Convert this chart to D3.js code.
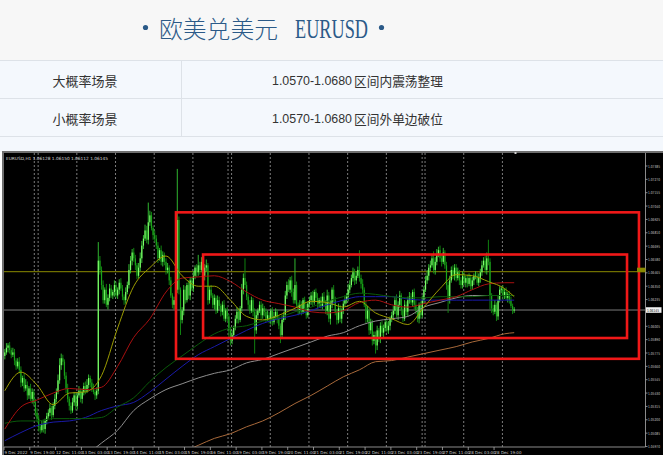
<!DOCTYPE html>
<html><head><meta charset="utf-8">
<script src="https://cdn.jsdelivr.net/npm/d3@7"></script>
<style>body{margin:0;background:#fff;}svg{display:block;}</style>
</head><body><svg id="c" width="663" height="455"></svg>
<script>
// ---------- DATA ----------
const titleCn = "欧美兑美元";
const titleEn = "EURUSD";
const rowLabels = ["大概率场景", "小概率场景"];
const rowRanges = ["1.0570-1.0680", "1.0570-1.0680"];
const rowTexts = ["区间内震荡整理", "区间外单边破位"];

// EURUSD H1 closes (bar 0 = 9 Dec 2022 03:00)
const firstOpen = 1.0575;
const closes = [
1.0578,1.0582,1.0584,1.0580,1.0576,1.0578,
1.0571,1.0566,1.0570,1.0563,
1.0552,1.0556,1.0547,
1.0550,1.0541,1.0547,1.0538,1.0544,1.0535,
1.0526,1.0521,1.0514,1.0511,1.0516,1.0512,1.0519,1.0523,
1.0526,1.0530,1.0524,1.0532,1.0538,1.0544,
1.0554,1.0567,1.0573,1.0570,1.0558,1.0547,
1.0538,1.0532,1.0528,1.0535,1.0541,1.0532,
1.0541,1.0545,1.0538,1.0544,1.0549,1.0545,
1.0550,1.0556,1.0552,1.0547,1.0544,1.0541,1.0545,
1.0657,
1.0649,1.0636,1.0623,1.0632,1.0619,1.0625,1.0633,1.0627,
1.0630,1.0636,1.0627,1.0632,1.0638,1.0633,1.0626,1.0623,1.0630,
1.0636,1.0649,1.0657,1.0664,1.0659,
1.0653,1.0644,1.0651,1.0659,
1.0670,1.0676,1.0683,1.0675,1.0690,1.0696,1.0685,1.0679,
1.0676,1.0670,1.0659,1.0666,1.0656,
1.0662,1.0656,1.0649,1.0651,1.0640,1.0627,1.0619,
1.0623,1.0632,
1.0692,
1.0632,
1.0606,1.0614,
1.0632,1.0623,1.0636,1.0627,1.0640,1.0633,
1.0644,1.0651,1.0647,1.0653,
1.0649,1.0656,1.0644,1.0651,
1.0653,1.0623,1.0632,
1.0627,1.0619,1.0625,1.0614,1.0623,1.0618,
1.0613,1.0619,1.0607,1.0614,1.0609,
1.0597,1.0588,1.0593,1.0599,
1.0607,1.0613,1.0606,1.0616,
1.0632,1.0642,1.0636,1.0626,
1.0619,1.0614,1.0623,1.0613,
1.0597,1.0610,
1.0614,1.0619,1.0610,1.0616,1.0613,1.0607,
1.0610,1.0606,1.0614,1.0604,1.0609,1.0613,1.0607,
1.0601,1.0593,1.0606,1.0610,
1.0627,1.0636,1.0632,1.0640,1.0630,
1.0623,1.0636,1.0619,1.0614,
1.0619,1.0613,1.0623,1.0616,1.0610,1.0620,
1.0623,1.0627,1.0621,1.0630,1.0625,1.0620,
1.0623,1.0618,1.0626,1.0621,
1.0614,1.0627,1.0607,1.0619,1.0632,1.0623,
1.0613,1.0606,1.0616,1.0607,1.0614,
1.0620,1.0623,1.0626,1.0632,
1.0636,1.0642,1.0647,1.0640,1.0644,1.0649,1.0642,1.0637,1.0632,
1.0619,1.0607,1.0614,1.0597,1.0604,1.0588,
1.0593,1.0584,1.0597,1.0590,1.0601,1.0595,1.0599,
1.0604,1.0597,1.0601,1.0607,1.0610,
1.0614,1.0623,1.0610,1.0619,1.0627,
1.0614,1.0607,1.0619,1.0613,1.0623,
1.0626,1.0621,1.0630,1.0619,
1.0614,1.0607,1.0619,1.0610,1.0623,
1.0632,1.0640,1.0644,1.0651,
1.0653,1.0659,1.0649,1.0656,
1.0662,1.0666,1.0659,
1.0656,1.0664,1.0653,
1.0636,1.0623,1.0640,
1.0649,1.0644,1.0651,1.0642,1.0647,
1.0640,1.0636,1.0644,1.0638,1.0642,
1.0637,1.0642,1.0635,1.0640,1.0644,
1.0644,1.0638,1.0642,1.0647,
1.0653,1.0657,1.0649,1.0659,
1.0656,
1.0627,1.0616,
1.0613,1.0619,1.0609,1.0623,
1.0632,1.0633,
1.0627,1.0630,1.0625,1.0628,
1.0623,1.0618,1.0614,1.0615
];
// upper / lower shadow lengths in pips
const wickUp = [
3,4,2,3,2,4,3,2,3,4, 3,2,4,5,3,2,4,3,2,3, 4,3,2,3,4,2,3,3,4,2, 3,4,3,5,6,4,3,2,3,4,
2,3,4,3,2,3,4,2,3,3, 4,5,3,2,3,4,2,3,16,4, 3,4,2,5,3,4,3,2,4,3, 2,3,4,3,2,4,3,5,4,3,
4,3,2,4,5,4,3,5,4,17, 4,3,2,4,3,3,2,4,3,2, 3,4,2,3,2,3,4,44,3,2, 3,4,3,2,4,3,3,4,2,3,
9,3,4,2,3,5,2,3,4,2, 3,2,4,3,2,3,4,2,3,2, 3,4,2,3,4,3,2,5,4,17, 3,2,4,3,2,3,4,2,3,3,
4,2,3,4,3,2,3,4,3,2, 3,2,4,3,4,3,5,3,4,3, 23,3,2,4,3,2,3,4,2,3, 3,4,2,3,4,2,3,3,4,2,
5,3,4,2,4,3,2,4,3,2, 3,4,3,5,4,3,4,3,4,3, 17,3,4,2,3,4,2,3,2,3, 3,4,2,3,4,3,2,3,4,2,
3,4,3,5,3,4,2,3,4,3, 3,4,3,2,3,4,3,2,3,4, 3,4,5,3,4,3,6,4,5,3, 4,3,4,2,3,3,4,3,4,3,
3,4,2,3,4,3,2,3,4,3, 3,2,4,3,4,3,4,3,4,5, 16,3,2,3,4,2,4,3,2,3, 3,4,2,3,3,2,2
];
const wickDown = [
3,2,4,3,3,2,4,3,2,3, 4,3,3,2,4,3,2,4,3,3, 3,4,3,2,3,4,3,2,3,4, 2,3,3,2,3,4,3,3,4,3,
4,3,2,3,4,3,2,3,4,3, 3,2,3,4,3,2,4,3,3,4, 4,3,3,2,4,3,2,3,4,2, 3,4,2,3,4,3,2,3,3,4,
3,4,3,2,3,4,3,2,3,4, 3,2,4,3,3,4,2,3,4,3, 4,3,4,2,3,4,3,3,4,13, 3,4,3,2,3,4,2,3,3,4,
3,4,2,3,4,3,4,3,2,3, 4,3,2,3,4,3,2,3,4,6, 4,3,3,2,4,3,2,3,4,3, 3,4,3,2,4,20,3,3,2,4,
3,4,3,2,3,4,3,2,3,4, 3,7,3,2,4,3,2,3,4,3, 3,2,4,3,3,2,4,3,2,3, 4,3,2,3,4,3,2,3,4,3,
4,3,5,3,2,3,4,3,3,4, 3,2,3,4,3,2,3,4,3,2, 3,4,3,2,4,3,4,3,4,3, 7,4,3,4,3,4,3,2,3,4,
3,4,3,2,4,3,4,3,2,3, 4,3,2,3,4,3,3,4,3,2, 3,2,3,4,3,2,3,4,3,2, 3,4,2,3,4,11,3,2,3,4,
3,2,4,3,3,2,4,3,2,3, 3,4,3,2,3,4,3,2,3,4, 3,12,4,3,2,4,3,2,3,4, 3,2,4,3,2,3,2
];

// moving averages sampled at bar indices
const maIndex = [0,10,20,30,40,50,60,70,80,90,100,110,120,130,140,150,160,170,180,190,200,210,220,230,240,250,260,270,280,290,300,310,316];
const maOlive = [1.0545,1.0561,1.0550,1.0533,1.0543,1.0544,1.0558,1.0599,1.0635,1.0651,1.0661,1.0644,1.0635,1.0635,1.0623,1.0609,1.0606,1.0610,1.0616,1.0622,1.0621,1.0617,1.0622,1.0612,1.0607,1.0602,1.0617,1.0633,1.0645,1.0644,1.0639,1.0633,1.0626];
const maRed   = [1.0512,1.0531,1.0537,1.0543,1.0547,1.0546,1.0548,1.0566,1.0591,1.0607,1.0630,1.0642,1.0643,1.0644,1.0639,1.0630,1.0623,1.0620,1.0617,1.0613,1.0612,1.0614,1.0621,1.0623,1.0619,1.0617,1.0620,1.0623,1.0626,1.0632,1.0637,1.0638,1.0638];
const maGreen = [1.0517,1.0519,1.0519,1.0521,1.0521,1.0521,1.0522,1.0531,1.0539,1.0553,1.0565,1.0575,1.0585,1.0594,1.0599,1.0601,1.0605,1.0608,1.0613,1.0617,1.0622,1.0626,1.0629,1.0628,1.0626,1.0625,1.0625,1.0626,1.0626,1.0626,1.0627,1.0627,1.0627];
const maBlue  = [1.0502,1.0509,1.0515,1.0518,1.0519,1.0522,1.0528,1.0532,1.0535,1.0544,1.0555,1.0566,1.0576,1.0583,1.0590,1.0597,1.0603,1.0607,1.0610,1.0614,1.0619,1.0623,1.0626,1.0626,1.0626,1.0624,1.0623,1.0623,1.0623,1.0623,1.0623,1.0623,1.0623];
const maGray  = [null,null,null,null,null,1.0489,1.0500,1.0511,1.0528,1.0538,1.0546,1.0551,1.0556,1.0560,1.0563,1.0569,1.0572,1.0577,1.0582,1.0587,1.0592,1.0595,1.0601,1.0605,1.0607,1.0609,1.0617,1.0621,1.0625,1.0627,1.0627,1.0627,1.0627];
const maBrown = [null,null,null,null,null,null,null,null,null,null,null,1.0492,1.0498,1.0504,1.0508,1.0514,1.0519,1.0526,1.0534,1.0541,1.0549,1.0557,1.0563,1.0570,1.0571,1.0574,1.0577,1.0580,1.0583,1.0587,1.0590,1.0594,1.0595];

// visible price scale labels (1.06120 is hidden under the last-price tag)
const priceTicks = ["1.07385","1.07270","1.07155","1.07040","1.06925","1.06810","1.06695","1.06580","1.06465","1.06350","1.06235","1.06005","1.05890","1.05775","1.05660","1.05545","1.05430","1.05315","1.05200","1.05085","1.04970"];
const dateLabels = ["9 Dec 2022","9 Dec 19:00","12 Dec 11:00","13 Dec 03:00","13 Dec 19:00","14 Dec 11:00","15 Dec 03:00","15 Dec 19:00","16 Dec 11:00","19 Dec 03:00","19 Dec 19:00","20 Dec 11:00","21 Dec 03:00","21 Dec 19:00","22 Dec 11:00","23 Dec 03:00","23 Dec 19:00","27 Dec 11:00","28 Dec 03:00","28 Dec 19:00"];
const dateIndex = [0,16,32,48,64,80,96,112,128,144,160,176,192,208,224,240,256,272,288,304];
const separators = [18.6,21,45,69,93,117,138.8,141,165,189,213,237,259.2,261,285,309];
const levelOlive = 1.06475;
const lastPrice = 1.06145;
const infoText = "EURUSD,H1  1.06128 1.06150 1.06112 1.06145";
// red range boxes [big, small]
const boxStart = [106.2, 123.0];
const boxEnd = [393.4, 386.0];
const boxTop = [1.06986, 1.06623];
const boxBottom = [1.05725, 1.05904];

// ---------- DRAW ----------
const svg = d3.select("#c");
// header
svg.append("rect").attr("x",0).attr("y",0).attr("width",663).attr("height",60).attr("fill","#f7f7f7");
svg.append("rect").attr("x",0).attr("y",60).attr("width",663).attr("height",92).attr("fill","#f4f8fd");
const tc = "#2b5a88";
svg.append("circle").attr("cx",145.5).attr("cy",27.5).attr("r",2.6).attr("fill",tc);
svg.append("circle").attr("cx",381.5).attr("cy",27.5).attr("r",2.6).attr("fill",tc);
svg.append("text").attr("x",159).attr("y",37.5).attr("font-family","'Noto Sans CJK SC'").attr("font-size",23.5)
  .attr("font-weight",300).attr("textLength",119).attr("lengthAdjust","spacingAndGlyphs").attr("fill",tc).text(titleCn);
svg.append("text").attr("x",295).attr("y",38.3).attr("font-family","'Liberation Serif'").attr("font-size",28)
  .attr("textLength",73).attr("lengthAdjust","spacingAndGlyphs").attr("fill",tc).text(titleEn);

// table
const lineC = "#dde2e8";
[60.5, 98.5, 136.5].forEach(y => svg.append("line").attr("x1",0).attr("x2",663).attr("y1",y).attr("y2",y).attr("stroke",lineC));
svg.append("line").attr("x1",181.5).attr("x2",181.5).attr("y1",61).attr("y2",136).attr("stroke",lineC);
const rowY = [80, 118];
rowLabels.forEach((t,i) => {
  svg.append("text").attr("x",85).attr("y",rowY[i]).attr("text-anchor","middle").attr("dominant-baseline","central")
    .attr("font-family","'Noto Sans CJK SC'").attr("font-size",13).attr("fill","#333").text(t);
  svg.append("text").attr("x",272).attr("y",rowY[i]).attr("dominant-baseline","central")
    .attr("font-family","'Liberation Sans'").attr("font-size",13).attr("textLength",80).attr("lengthAdjust","spacingAndGlyphs")
    .attr("fill","#333").text(rowRanges[i]);
  svg.append("text").attr("x",354).attr("y",rowY[i]).attr("dominant-baseline","central")
    .attr("font-family","'Noto Sans CJK SC'").attr("font-size",13).attr("textLength",89).attr("lengthAdjust","spacingAndGlyphs")
    .attr("fill","#333").text(rowTexts[i]);
});

// chart frame
svg.append("rect").attr("x",2).attr("y",151).attr("width",661).attr("height",304).attr("fill","#6f6f6f");
svg.append("rect").attr("x",4).attr("y",153).attr("width",659).attr("height",302).attr("fill","#000");

const x = d3.scaleLinear().domain([0,400]).range([4.8, 4.8 + 1.612*400]);
const y = d3.scaleLinear().domain([1.04970, 1.07385]).range([446.5, 166]);
const plotL = 4, plotR = 645.5, plotT = 153, plotB = 447;

svg.append("clipPath").attr("id","pc").append("rect").attr("x",plotL).attr("y",plotT).attr("width",plotR-plotL).attr("height",plotB-plotT);
const g = svg.append("g").attr("clip-path","url(#pc)");

// separators
g.selectAll(".sep").data(separators).enter().append("line")
  .attr("x1",d=>x(d)-0.5).attr("x2",d=>x(d)-0.5).attr("y1",plotT).attr("y2",plotB)
  .attr("stroke","#9c9c9c").attr("stroke-width",0.8).attr("stroke-dasharray","2,2");
// horizontal levels
g.append("line").attr("x1",plotL).attr("x2",plotR).attr("y1",y(levelOlive)).attr("y2",y(levelOlive)).attr("stroke","#8a8a00").attr("stroke-width",1);
g.append("line").attr("x1",plotL).attr("x2",plotR).attr("y1",y(lastPrice)).attr("y2",y(lastPrice)).attr("stroke","#7a7a7a").attr("stroke-width",1);

// candles
const bars = closes.map((c,i) => {
  const o = i ? closes[i-1] : firstOpen;
  const h = Math.max(o,c) + (wickUp[i] || 0)*1e-4;
  const l = Math.min(o,c) - (wickDown[i] || 0)*1e-4;
  return {i,o,c,h,l,up:c>=o};
});
const cg = g.append("g");
cg.selectAll(".wick").data(bars).enter().append("line")
  .attr("x1",d=>x(d.i)).attr("x2",d=>x(d.i)).attr("y1",d=>y(d.h)).attr("y2",d=>y(d.l))
  .attr("stroke",d=>d.up?"#35c935":"#128f12").attr("stroke-width",0.9);
cg.selectAll(".body").data(bars).enter().append("rect")
  .attr("x",d=>x(d.i)-0.6).attr("width",1.2)
  .attr("y",d=>y(Math.max(d.o,d.c))).attr("height",d=>Math.max(0.8, Math.abs(y(d.o)-y(d.c))))
  .attr("fill",d=>d.up?"#7dff6a":"#1aa51a");

// moving averages
const maSet = [[maBrown,"#a8693a"],[maGray,"#8e8e8e"],[maBlue,"#1a1aa8"],[maGreen,"#0a5a0a"],[maRed,"#a81010"],[maOlive,"#9c9c00"]];
maSet.forEach(([arr,col]) => {
  const pts = maIndex.map((idx,k) => [idx, arr[k]]);
  const line = d3.line().defined(d=>d[1]!=null).x(d=>x(d[0])).y(d=>y(d[1])).curve(d3.curveMonotoneX);
  g.append("path").attr("d",line(pts)).attr("fill","none").attr("stroke",col).attr("stroke-width",1);
});

// boxes
boxStart.forEach((s,k) => {
  svg.append("rect").attr("x",x(s)).attr("y",y(boxTop[k])).attr("width",x(boxEnd[k])-x(s)).attr("height",y(boxBottom[k])-y(boxTop[k]))
    .attr("fill","none").attr("stroke","#f01818").attr("stroke-width",2.6);
});

// axes
svg.append("line").attr("x1",plotR).attr("x2",plotR).attr("y1",plotT).attr("y2",plotB).attr("stroke","#8a8a8a");
svg.append("line").attr("x1",plotL).attr("x2",plotR).attr("y1",plotB).attr("y2",plotB).attr("stroke","#8a8a8a");
priceTicks.forEach(t => {
  const yy = y(+t);
  svg.append("line").attr("x1",plotR).attr("x2",plotR+2).attr("y1",yy).attr("y2",yy).attr("stroke","#aaa").attr("stroke-width",0.8);
  svg.append("text").attr("x",648).attr("y",yy).attr("dominant-baseline","central").attr("font-family","'DejaVu Sans'")
    .attr("font-size",3.9).attr("textLength",12).attr("lengthAdjust","spacingAndGlyphs").attr("fill","#c8c8c8").text(t);
});
dateIndex.forEach((idx,k) => {
  const xx = x(idx) - 0.8;
  svg.append("line").attr("x1",xx).attr("x2",xx).attr("y1",plotB).attr("y2",plotB+3).attr("stroke","#aaa").attr("stroke-width",0.8);
  svg.append("text").attr("x",xx+0.5).attr("y",452.5).attr("dominant-baseline","central").attr("font-family","'DejaVu Sans'")
    .attr("font-size",4).attr("fill","#c8c8c8").text(dateLabels[k]);
});
// level markers
svg.append("rect").attr("x",637).attr("y",y(levelOlive)-4).attr("width",8.5).attr("height",4.5).attr("fill","#8a8a00");
svg.append("rect").attr("x",646).attr("y",y(lastPrice)-2.8).attr("width",15.5).attr("height",5.6).attr("fill","#f0f0f0");
svg.append("text").attr("x",647).attr("y",y(lastPrice)).attr("dominant-baseline","central").attr("font-family","'DejaVu Sans'")
  .attr("font-size",3.9).attr("textLength",12).attr("lengthAdjust","spacingAndGlyphs").attr("fill","#000").text(lastPrice.toFixed(5));
svg.append("rect").attr("x",514.5).attr("y",152).attr("width",2).attr("height",2).attr("fill","#d0d0d0");
svg.append("text").attr("x",6).attr("y",158.5).attr("dominant-baseline","central").attr("font-family","'DejaVu Sans'")
  .attr("font-size",4.3).attr("fill","#d8d8d8").text(infoText);
</script></body></html>
